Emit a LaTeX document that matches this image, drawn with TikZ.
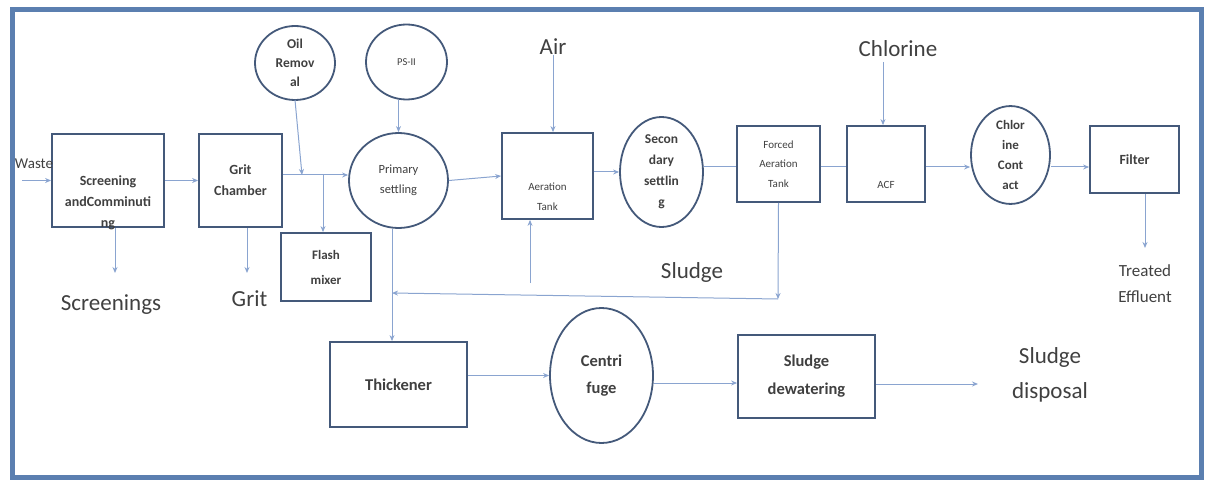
\documentclass[tikz,border=0pt]{standalone}
\usepackage{fontspec}
\setmainfont{Carlito}
\usetikzlibrary{arrows.meta,shapes.geometric,calc}
\definecolor{framec}{HTML}{5B7FB0}
\definecolor{boxc}{HTML}{44597A}
\definecolor{linec}{HTML}{8AA4D0}
\definecolor{txtc}{HTML}{404040}
\tikzset{
  box/.style={draw=boxc, line width=1.8pt, rectangle, inner sep=0pt, text=txtc, align=center},
  oval/.style={draw=boxc, line width=1.8pt, ellipse, inner sep=0pt, text=txtc, align=center},
  arr/.style={draw=linec, line width=1pt, -{Stealth[length=6pt,width=5pt]}},
  pln/.style={draw=linec, line width=1pt},
  btxt/.style={text=txtc, align=center, font=\bfseries\fontsize{14}{21}\selectfont},
  stxt/.style={text=txtc, align=center, font=\fontsize{11}{20}\selectfont},
  big/.style={text=txtc, align=center, font=\fontsize{23}{35}\selectfont},
}
\begin{document}
\begin{tikzpicture}[x=1pt,y=-1pt]
\useasboundingbox (0,0) rectangle (1210,481);
\draw[framec, line width=5pt] (12.5,10) rectangle (1201,477);

% process nodes
\node[box, minimum width=112, minimum height=93,
  label={[btxt, yshift=-22]center:Screening\\andComminuti\\ng}] (scr) at (108,180.5) {};
\node[box, minimum width=83, minimum height=93, font=\bfseries\fontsize{14}{21}\selectfont] (grit) at (240.5,180.5) {Grit\\Chamber};
\node[oval, minimum width=80, minimum height=74, font=\bfseries\fontsize{13.5}{19}\selectfont] (oil) at (295,63) {Oil\\Remov\\al};
\node[oval, minimum width=81, minimum height=75, font=\fontsize{10.5}{12}\selectfont] (ps) at (406.5,62) {PS-II};
\node[oval, minimum width=99, minimum height=95, font=\fontsize{12.5}{20}\selectfont] (prim) at (398.5,180.5) {Primary\\settling};
\node[box, minimum width=90, minimum height=68, font=\bfseries\fontsize{13}{25}\selectfont] (flash) at (326,267) {Flash\\mixer};
\node[box, minimum width=91, minimum height=86,
  label={[stxt, yshift=-21]center:Aeration\\Tank}] (aer) at (547.5,176) {};
\node[oval, minimum width=83, minimum height=110, font=\bfseries\fontsize{13.5}{21}\selectfont] (sec) at (661.5,172) {Secon\\dary\\settlin\\g};
\node[box, minimum width=83, minimum height=76, font=\fontsize{11}{19.5}\selectfont] (forced) at (778.5,164) {Forced\\Aeration\\Tank};
\node[box, minimum width=78, minimum height=76,
  label={[stxt, yshift=-21]center:ACF}] (acf) at (886,164) {};
\node[oval, minimum width=79, minimum height=94, font=\bfseries\fontsize{13}{20}\selectfont] (chl) at (1010.5,155) {Chlor\\ine\\Cont\\act};
\node[box, minimum width=89, minimum height=67, font=\bfseries\fontsize{14}{21}\selectfont] (filt) at (1134.5,159.5) {Filter};
\node[box, minimum width=137, minimum height=85, font=\bfseries\fontsize{16.5}{27}\selectfont] (thick) at (398.5,384.5) {Thickener};
\node[oval, minimum width=103, minimum height=135, font=\bfseries\fontsize{16.5}{27}\selectfont] (cent) at (601.5,375.5) {Centri\\fuge};
\node[box, minimum width=137, minimum height=83, font=\bfseries\fontsize{16.5}{28}\selectfont] (dew) at (806.5,376.5) {Sludge\\dewatering};

% text labels
\node[text=txtc, font=\fontsize{15}{18}\selectfont, inner sep=0pt] (waste) at (34,164) {Waste};
\node[big, inner sep=0pt] (scrn) at (111,305) {Screenings};
\node[big, inner sep=0pt] (gritl) at (249.5,299) {Grit};
\node[big, inner sep=0pt] (air) at (553,47) {Air};
\node[big, inner sep=0pt] (chlor) at (898,49) {Chlorine};
\node[big, inner sep=0pt] (sludge) at (692,272) {Sludge};
\node[text=txtc, align=center, font=\fontsize{17}{26}\selectfont, inner sep=0pt] (treated) at (1145,284) {Treated\\Effluent};
\node[big, inner sep=0pt] (disp) at (1050,375) {Sludge\\disposal};

% junction coordinates
\coordinate (win) at (22,180.5);
\coordinate (j1) at (302,175);
\coordinate (j2) at (323,175);
\coordinate (sA) at (115,273);
\coordinate (gA) at (247,273);
\coordinate (rj) at (392,293);
\coordinate (ar) at (530,283);
\coordinate (fd) at (778,299);
\coordinate (ch1) at (883,62);
\coordinate (te) at (1145,248);
\coordinate (dd) at (978,384);

% connectors
\draw[arr] (win) -- (scr.west);
\draw[arr] (scr.east) -- (grit.west);
\draw[arr] (grit.east |- j1) -- (j1 -| prim.west);
\draw[arr] (oil.south |- 0,100) -- (j1);
\draw[arr] (j2) -- (j2 |- flash.north);
\draw[arr] (prim.north |- ps.south) -- (prim.north);
\draw[arr] (prim.east) -- (aer.west);
\draw[arr] (air.south) -- (air.south |- aer.north);
\draw[arr] (aer.east |- sec.west) -- (sec.west);
\draw[pln] (sec.east |- 0,167) -- (forced.west |- 0,167);
\draw[pln] (forced.east |- 0,167) -- (acf.west |- 0,167);
\draw[arr] (ch1) -- (ch1 |- acf.north);
\draw[arr] (acf.east |- 0,167) -- (chl.west |- 0,167);
\draw[arr] (chl.east |- 0,167) -- (filt.west |- 0,167);
\draw[arr] (te |- filt.south) -- (te);
\draw[arr] (sA |- scr.south) -- (sA);
\draw[arr] (gA |- grit.south) -- (gA);
\draw[arr] (rj |- prim.south) -- (rj |- thick.north);
\draw[arr] (ar) -- (ar |- aer.south);
\draw[arr] (forced.south) -- (fd);
\draw[arr] (fd) -- (rj);
\draw[arr] (thick.east |- cent.west) -- (cent.west);
\draw[arr] (cent.east |- 0,383) -- (dew.west |- 0,383);
\draw[arr] (dew.east |- dd) -- (dd);
\end{tikzpicture}
\end{document}
